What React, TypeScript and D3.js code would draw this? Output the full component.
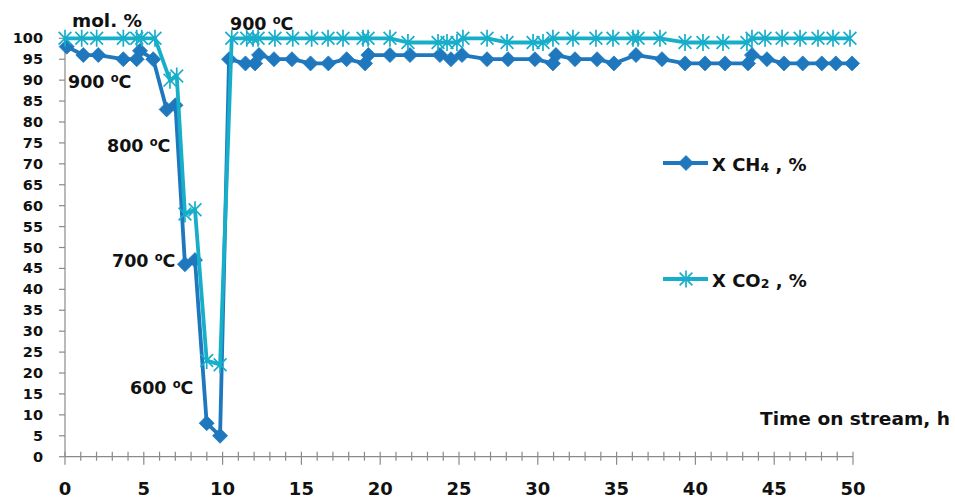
import React from "react";
import * as d3 from "d3";

const ch4X = [0.11, 1.16, 2.11, 3.7, 4.55, 4.76, 5.6, 6.45, 7.01, 7.61, 8.25, 8.99, 9.84, 10.41, 11.45, 12.06, 12.31, 13.26, 14.4, 15.58, 16.71, 17.87, 19.04, 19.25, 20.62, 21.89, 23.79, 24.49, 25.19, 26.78, 28.11, 29.82, 30.96, 31.15, 32.36, 33.76, 34.83, 36.23, 37.88, 39.34, 40.61, 41.88, 43.34, 43.59, 44.54, 45.62, 46.81, 48.02, 48.91, 49.94];
const ch4Y = [98, 96, 96, 95, 95, 97, 95, 83, 84, 46, 47, 8, 5, 95, 94, 94, 96, 95, 95, 94, 94, 95, 94, 96, 96, 96, 96, 95, 96, 95, 95, 95, 94, 96, 95, 95, 94, 96, 95, 94, 94, 94, 94, 96, 95, 94, 94, 94, 94, 94];

const co2X = [0, 1.06, 2.01, 3.7, 4.55, 4.87, 5.71, 6.66, 7.09, 7.61, 8.25, 8.99, 9.84, 10.58, 11.53, 11.93, 12.25, 13.32, 14.45, 15.65, 16.69, 17.64, 18.91, 19.23, 20.62, 21.76, 23.67, 24.24, 24.87, 25.25, 26.78, 28.05, 29.7, 30.33, 30.96, 32.23, 33.69, 34.77, 36.04, 36.36, 37.75, 39.34, 40.48, 41.75, 43.27, 43.59, 44.42, 45.5, 46.64, 47.78, 48.73, 49.81];
const co2Y = [100, 100, 100, 100, 100, 100, 100, 90, 91, 58, 59, 23, 22, 100, 100, 100, 100, 100, 100, 100, 100, 100, 100, 100, 100, 99, 99, 99, 99, 100, 100, 99, 99, 99, 100, 100, 100, 100, 100, 100, 100, 99, 99, 99, 99, 100, 100, 100, 100, 100, 100, 100];

const yTicks = d3.range(0, 101, 5);
const xMajorTicks = d3.range(0, 51, 5);
const xMinorTicks = d3.range(0, 51, 1);

const tempLabels = [
  { t: "900", x: 230, y: 30 },
  { t: "900", x: 68, y: 88 },
  { t: "800", x: 107, y: 152 },
  { t: "700", x: 112, y: 267 },
  { t: "600", x: 130, y: 394 },
];

const seriesNames = ["CH", "CO"];
const seriesSubs = ["4", "2"];

const CH4_COLOR = "#1F78BD";
const CO2_COLOR = "#17AECA";
const AXIS_COLOR = "#8A8A8A";
const FONT = "'DejaVu Sans', sans-serif";

export default function App() {
  const x = d3.scaleLinear().domain([0, 50]).range([65, 853]);
  const y = d3.scaleLinear().domain([0, 100]).range([456.7, 38.3]);

  const line = d3
    .line<[number, number]>()
    .x((d) => x(d[0]))
    .y((d) => y(d[1]));

  const ch4 = ch4X.map((v, i) => [v, ch4Y[i]] as [number, number]);
  const co2 = co2X.map((v, i) => [v, co2Y[i]] as [number, number]);

  const diamond = (cx: number, cy: number, r: number) =>
    `M${cx},${cy - r}L${cx + r},${cy}L${cx},${cy + r}L${cx - r},${cy}Z`;
  const star = (cx: number, cy: number, r: number) => {
    const d = r * 0.75;
    return `M${cx - d},${cy - d}L${cx + d},${cy + d}M${cx - d},${cy + d}L${cx + d},${cy - d}M${cx},${cy - r}L${cx},${cy + r}`;
  };

  const legendY = [163, 279];

  return (
    <svg
      width={955}
      height={499}
      style={{ position: "absolute", left: 0, top: 0, background: "#fff" }}
      fontFamily={FONT}
      fontWeight="bold"
    >
      <rect width={955} height={499} fill="#fff" />
      {/* axes */}
      <line x1={x(0)} x2={x(0)} y1={y(100)} y2={y(0)} stroke={AXIS_COLOR} strokeWidth={1.2} />
      <line x1={x(0)} x2={x(50)} y1={y(0)} y2={y(0)} stroke={AXIS_COLOR} strokeWidth={1.2} />
      {yTicks.map((t) => (
        <g key={"y" + t}>
          <line x1={x(0) - 6} x2={x(0)} y1={y(t)} y2={y(t)} stroke={AXIS_COLOR} strokeWidth={1.2} />
          <text x={43} y={y(t) + 5} textAnchor="end" fontSize={14.5} fill="#111">
            {t}
          </text>
        </g>
      ))}
      {xMinorTicks.map((t) => (
        <line
          key={"xm" + t}
          x1={x(t)}
          x2={x(t)}
          y1={y(0) - 5}
          y2={y(0) + (t % 5 === 0 ? 8 : 4)}
          stroke={AXIS_COLOR}
          strokeWidth={1.2}
        />
      ))}
      {xMajorTicks.map((t) => (
        <text key={"xl" + t} x={x(t)} y={495} textAnchor="middle" fontSize={18} fill="#111">
          {t}
        </text>
      ))}

      {/* series CH4 */}
      <path d={line(ch4) || ""} fill="none" stroke={CH4_COLOR} strokeWidth={3.8} strokeLinejoin="round" />
      {ch4.map((d, i) => (
        <path key={"d" + i} d={diamond(x(d[0]), y(d[1]), 7.5)} fill={CH4_COLOR} stroke={CH4_COLOR} strokeWidth={0.8} />
      ))}
      {/* series CO2 */}
      <path d={line(co2) || ""} fill="none" stroke={CO2_COLOR} strokeWidth={3.8} strokeLinejoin="round" />
      {co2.map((d, i) => (
        <path key={"s" + i} d={star(x(d[0]), y(d[1]), 8.5)} fill="none" stroke={CO2_COLOR} strokeWidth={1.7} />
      ))}

      {/* labels */}
      <text x={72} y={27} fontSize={18} fill="#111" textLength={70} lengthAdjust="spacingAndGlyphs">
        mol. %
      </text>
      {tempLabels.map((l, i) => (
        <text key={"t" + i} x={l.x} y={l.y} fontSize={17.5} fill="#111">
          {l.t + " "}
          <tspan fontSize={11.5} dy={-6}>o</tspan>
          <tspan dy={6}>C</tspan>
        </text>
      ))}
      <text x={760} y={425} fontSize={18} fill="#111" textLength={190} lengthAdjust="spacingAndGlyphs">
        Time on stream, h
      </text>

      {/* legend */}
      {legendY.map((ly, i) => (
        <g key={"lg" + i}>
          <line x1={663} x2={708} y1={ly} y2={ly} stroke={i === 0 ? CH4_COLOR : CO2_COLOR} strokeWidth={3.8} />
          {i === 0 ? (
            <path d={diamond(686, ly, 7.5)} fill={CH4_COLOR} stroke={CH4_COLOR} strokeWidth={0.8} />
          ) : (
            <path d={star(686, ly, 8.5)} fill="none" stroke={CO2_COLOR} strokeWidth={1.7} />
          )}
          <text x={712} y={ly + 8} fontSize={18} fill="#111">
            {"X " + seriesNames[i]}
            <tspan fontSize={12.5} dy={1}>{seriesSubs[i]}</tspan>
            <tspan dy={-1}>{" , %"}</tspan>
          </text>
        </g>
      ))}
    </svg>
  );
}
